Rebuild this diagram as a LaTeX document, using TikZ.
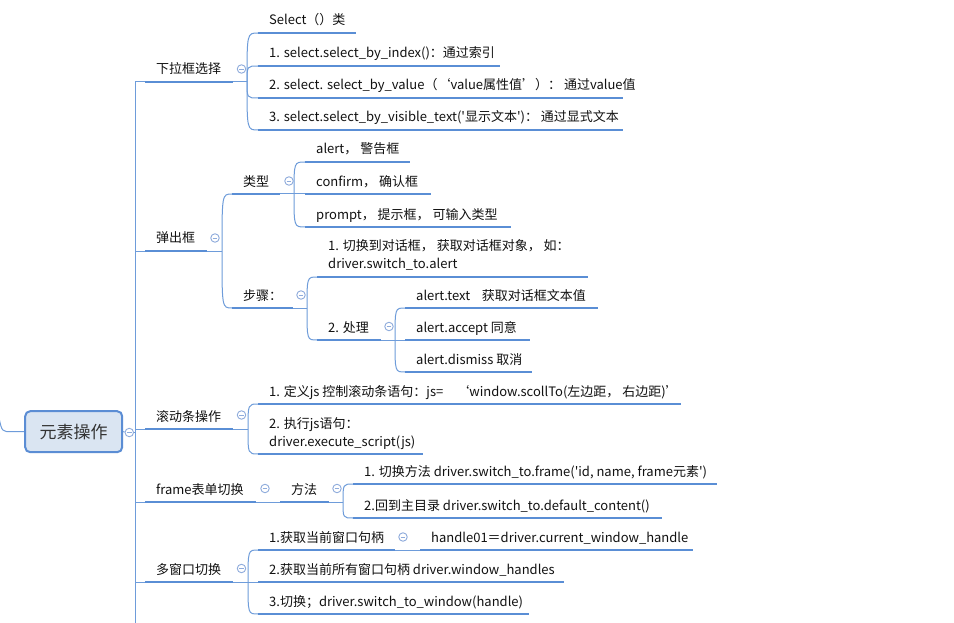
\documentclass[tikz,border=0pt]{standalone}
\usepackage{fontspec}
\setmainfont{Noto Sans CJK SC}
\setmonofont{Noto Sans CJK SC}
\definecolor{thickc}{HTML}{5A8ED5}
\definecolor{thinc}{HTML}{6E9CDA}
\definecolor{circc}{HTML}{8FACDC}
\definecolor{txtc}{HTML}{111111}
\definecolor{rootfill}{HTML}{DAE5F2}
\definecolor{rootdraw}{HTML}{5B8DD4}
\newcommand\sq{{\ttfamily\symbol{39}}}
\tikzset{
  txt/.style={anchor=base west, inner sep=0pt, font=\fontsize{13}{16}\selectfont, text=txtc},
  uline/.style={draw=thickc, line width=2.9pt},
  conn/.style={draw=thinc, line width=1pt},
  collapse/.style={circle, draw=circc, fill=white, line width=0.9pt, minimum size=8.5pt, inner sep=0pt,
    path picture={\draw[circc, line width=0.9pt] ([xshift=-2.3pt]path picture bounding box.center) -- ([xshift=2.3pt]path picture bounding box.center);}},
  rootbox/.style={draw=rootdraw, fill=rootfill, line width=2pt, rounded corners=5pt,
    minimum width=97pt, minimum height=41pt, inner sep=0pt, font=\fontsize{17}{20}\selectfont, text=black!80},
}
\newcommand\mmtopic[5]{%
  \coordinate (#1-l) at (#2,#4);
  \coordinate (#1-r) at (#3,#4);
  \node[txt] (#1) at (#2+11,#4-8) {#5};
  \draw[uline] (#1-l) -- (#1-r);
}
\begin{document}
\begin{tikzpicture}[x=1pt,y=-1pt]
\useasboundingbox (0,0) rectangle (954,623);
\fill[white] (0,0) rectangle (954,623);

% root
\node[rootbox] (root) at (73.7,431.7) {元素操作};
\coordinate (lin) at (-1,418);
\draw[conn] (lin) .. controls (2,431.7) .. (12,431.7) -- (root.west);
\node[collapse] (rootc) at (129.3,432.5) {};
\coordinate (tr) at (135.5,626);
\draw[conn] (root.east) -- (rootc);
\draw[conn] (rootc) -- (rootc -| tr);

% level 1
\mmtopic{A}{145}{233}{82}{下拉框选择}
\mmtopic{B}{145}{207}{251}{弹出框}
\mmtopic{C}{145}{233}{429}{滚动条操作}
\mmtopic{D}{145}{256}{502}{frame表单切换}
\mmtopic{E}{145}{233}{582}{多窗口切换}
\draw[conn] (A-l) -| (tr);
\foreach \n in {B,C,D,E} \draw[conn] (\n-l) -- (\n-l -| tr);

\node[collapse] (Ac) at (241.5,69) {};
\node[collapse] (Bc) at (215,238) {};
\node[collapse] (Cc) at (241.5,415) {};
\node[collapse] (Dc) at (265,488.5) {};
\node[collapse] (Ec) at (241.5,568.5) {};

% A children
\mmtopic{A1}{258}{356}{33}{Select（）类}
\mmtopic{A2}{258}{500}{66}{1. select.select\_by\_index()：通过索引}
\mmtopic{A3}{258}{623}{98}{2. select. select\_by\_value（‘value属性值’）： 通过value值}
\mmtopic{A4}{258}{623}{130}{3. select.select\_by\_visible\_text(\sq{}显示文本\sq{})： 通过显式文本}
\coordinate (A-b) at (247,82);
\draw[conn] (A-r) -- (A-b);
\foreach \c in {A1,A2,A3,A4} \draw[conn] (A-b) .. controls (A-b |- \c-l) .. (\c-l);

% B children
\mmtopic{B1}{232}{280}{194}{类型}
\mmtopic{B2}{232}{293}{308}{步骤：}
\coordinate (B-b) at (222,251);
\draw[conn] (B-r) -- (B-b);
\foreach \c in {B1,B2} \draw[conn] (B-b) .. controls (B-b |- \c-l) .. (\c-l);
\node[collapse] (B1c) at (289,181) {};
\node[collapse] (B2c) at (301,295) {};

\mmtopic{B11}{305}{410}{162}{alert， 警告框}
\mmtopic{B12}{305}{431}{194}{confirm， 确认框}
\mmtopic{B13}{305}{511}{227}{prompt， 提示框， 可输入类型}
\coordinate (B1-b) at (294,194);
\draw[conn] (B1-r) -- (B12-l);
\foreach \c in {B11,B13} \draw[conn] (B1-b) .. controls (B1-b |- \c-l) .. (\c-l);

\mmtopic{B21}{317}{588}{277}{driver.switch\_to.alert}
\node[txt] (B21a) at (328,251) {1. 切换到对话框， 获取对话框对象， 如：};
\mmtopic{B22}{317}{381}{340}{2. 处理}
\coordinate (B2-b) at (307,308);
\draw[conn] (B2-r) -- (B2-b);
\foreach \c in {B21,B22} \draw[conn] (B2-b) .. controls (B2-b |- \c-l) .. (\c-l);
\node[collapse] (B22c) at (389,326.5) {};

\mmtopic{B221}{405}{598}{308}{alert.text\hspace{0.9em}获取对话框文本值}
\mmtopic{B222}{405}{530}{340}{alert.accept 同意}
\mmtopic{B223}{405}{532}{372}{alert.dismiss 取消}
\coordinate (B22-b) at (395,340);
\draw[conn] (B22-r) -- (B222-l);
\foreach \c in {B221,B223} \draw[conn] (B22-b) .. controls (B22-b |- \c-l) .. (\c-l);

% C children
\mmtopic{C1}{258}{681}{404}{1. 定义js 控制滚动条语句：js=　‘window.scollTo(左边距， 右边距)’}
\mmtopic{C2}{258}{423}{454}{driver.execute\_script(js)}
\node[txt] (C2a) at (269,428) {2. 执行js语句：};
\coordinate (C-b) at (248,429);
\draw[conn] (C-r) -- (C-b);
\foreach \c in {C1,C2} \draw[conn] (C-b) .. controls (C-b |- \c-l) .. (\c-l);

% D children
\mmtopic{D1}{280}{329}{502}{方法}
\draw[conn] (D-r) -- (D1-l);
\node[collapse] (D1c) at (337,488.5) {};
\mmtopic{D11}{353}{717}{484}{1. 切换方法 driver.switch\_to.frame(\sq{}id, name, frame元素\sq{})}
\mmtopic{D12}{353}{662}{518}{2.回到主目录 driver.switch\_to.default\_content()}
\coordinate (D1-b) at (343,502);
\draw[conn] (D1-r) -- (D1-b);
\foreach \c in {D11,D12} \draw[conn] (D1-b) .. controls (D1-b |- \c-l) .. (\c-l);

% E children
\mmtopic{E1}{258}{395}{550}{1.获取当前窗口句柄}
\mmtopic{E2}{258}{564}{582}{2.获取当前所有窗口句柄 driver.window\_handles}
\mmtopic{E3}{258}{529}{614}{3.切换；driver.switch\_to\_window(handle)}
\coordinate (E-b) at (248,582);
\draw[conn] (E-r) -- (E2-l);
\foreach \c in {E1,E3} \draw[conn] (E-b) .. controls (E-b |- \c-l) .. (\c-l);
\node[collapse] (E1c) at (403,537) {};
\mmtopic{E11}{420}{693}{550}{handle01＝driver.current\_window\_handle}
\draw[conn] (E1-r) -- (E11-l);
\end{tikzpicture}
\end{document}
